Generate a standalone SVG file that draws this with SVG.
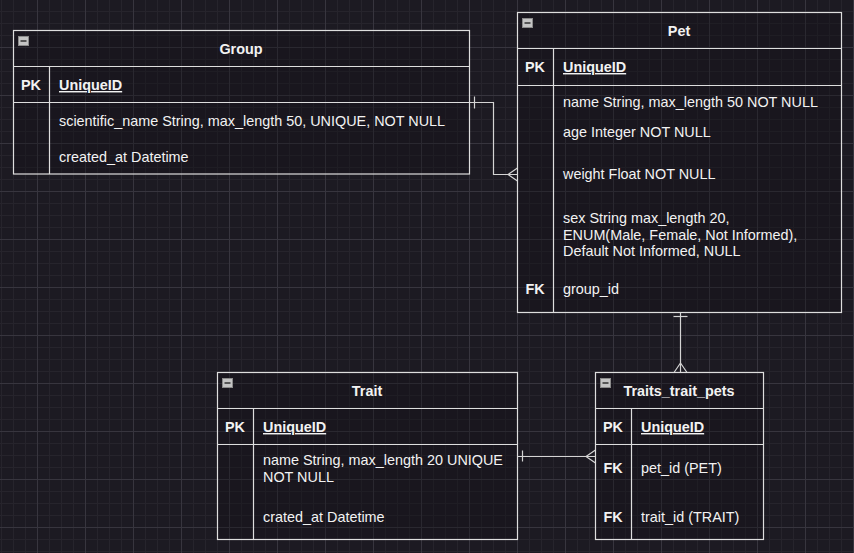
<svg xmlns="http://www.w3.org/2000/svg" width="854" height="553" viewBox="0 0 854 553">
<style>
.tb{fill:#141218;fill-opacity:0.35;stroke:#dedede;stroke-width:1.2}
.ln{fill:none;stroke:#dedede;stroke-width:1.2}
.cn{fill:none;stroke:#d4d4d4;stroke-width:1.2}
.t{font-family:"Liberation Sans",Arial,sans-serif;font-size:14.4px;fill:#f2f2f2}
.b{font-weight:bold}
.c{text-anchor:middle}
.u{text-decoration:underline}
.ic{fill:#c4c4c4;stroke:#8a8a8a;stroke-width:1}
.icl{stroke:#3a3a3a;stroke-width:1.6}
</style>
<defs>
<pattern id="grid" patternUnits="userSpaceOnUse" x="37" y="47" width="48" height="48">
<rect x="0" y="0" width="48" height="48" fill="#1c1a22"/>
<rect x="12" y="0" width="1" height="48" fill="#26242c"/>
<rect x="24" y="0" width="1" height="48" fill="#26242c"/>
<rect x="36" y="0" width="1" height="48" fill="#26242c"/>
<rect x="0" y="12" width="48" height="1" fill="#26242c"/>
<rect x="0" y="24" width="48" height="1" fill="#26242c"/>
<rect x="0" y="36" width="48" height="1" fill="#26242c"/>
<rect x="0" y="0" width="1" height="48" fill="#37353e"/>
<rect x="0" y="0" width="48" height="1" fill="#37353e"/>
</pattern>
</defs>
<rect x="0" y="0" width="854" height="553" fill="url(#grid)"/>

<g id="connectors">
<path class="cn" d="M469.5 102.5 H493.5 V174.5 H517.5"/>
<path class="cn" d="M474.5 96.5 V108.5"/>
<path class="cn" d="M508 174.5 L517.5 168 M508 174.5 L517.5 181"/>
<path class="cn" d="M680.5 312.5 V372.5"/>
<path class="cn" d="M673.5 316.5 H687.5"/>
<path class="cn" d="M680.5 363 L674 372.5 M680.5 363 L687 372.5"/>
<path class="cn" d="M517.5 456.5 H595.5"/>
<path class="cn" d="M522.5 450.5 V461.5"/>
<path class="cn" d="M586 456.5 L595.5 450 M586 456.5 L595.5 463"/>
</g>

<g id="group">
<rect class="tb" x="13.5" y="30.5" width="456" height="143.5"/>
<path class="ln" d="M13.5 66.5 H469.5 M13.5 102.5 H469.5 M49.5 66.5 V174"/>
<rect class="ic" x="18.5" y="36.5" width="10" height="9"/>
<path class="icl" d="M20.5 41 H26.5"/>
<text class="t b c" x="241" y="54">Group</text>
<text class="t b c" x="31" y="90">PK</text>
<text class="t b u" x="59" y="90">UniqueID</text>
<text class="t" x="59" y="126">scientific_name String, max_length 50, UNIQUE, NOT NULL</text>
<text class="t" x="59" y="162">created_at Datetime</text>
</g>

<g id="pet">
<rect class="tb" x="517.5" y="12.5" width="324" height="300"/>
<path class="ln" d="M517.5 48.5 H841.5 M517.5 85.5 H841.5 M553.5 48.5 V312.5"/>
<rect class="ic" x="522.5" y="18.5" width="10" height="9"/>
<path class="icl" d="M524.5 23 H530.5"/>
<text class="t b c" x="679" y="36">Pet</text>
<text class="t b c" x="535" y="72">PK</text>
<text class="t b u" x="563" y="72">UniqueID</text>
<text class="t" x="563" y="107">name String, max_length 50 NOT NULL</text>
<text class="t" x="563" y="137">age Integer NOT NULL</text>
<text class="t" x="563" y="179">weight Float NOT NULL</text>
<text class="t" x="563" y="223">sex String max_length 20,</text>
<text class="t" x="563" y="240">ENUM(Male, Female, Not Informed),</text>
<text class="t" x="563" y="256">Default Not Informed, NULL</text>
<text class="t b c" x="535" y="294">FK</text>
<text class="t" x="563" y="294">group_id</text>
</g>

<g id="trait">
<rect class="tb" x="217.5" y="372.5" width="300" height="167"/>
<path class="ln" d="M217.5 408.5 H517.5 M217.5 444.5 H517.5 M253.5 408.5 V539.5"/>
<rect class="ic" x="222.5" y="378.5" width="10" height="9"/>
<path class="icl" d="M224.5 383 H230.5"/>
<text class="t b c" x="367" y="396">Trait</text>
<text class="t b c" x="235" y="432">PK</text>
<text class="t b u" x="263" y="432">UniqueID</text>
<text class="t" x="263" y="465">name String, max_length 20 UNIQUE</text>
<text class="t" x="263" y="482">NOT NULL</text>
<text class="t" x="263" y="522">crated_at Datetime</text>
</g>

<g id="traits_trait_pets">
<rect class="tb" x="595.5" y="372.5" width="168" height="167"/>
<path class="ln" d="M595.5 408.5 H763.5 M595.5 444.5 H763.5 M631.5 408.5 V539.5"/>
<rect class="ic" x="600.5" y="378.5" width="10" height="9"/>
<path class="icl" d="M602.5 383 H608.5"/>
<text class="t b c" x="679" y="396">Traits_trait_pets</text>
<text class="t b c" x="613" y="432">PK</text>
<text class="t b u" x="641" y="432">UniqueID</text>
<text class="t b c" x="613" y="473">FK</text>
<text class="t" x="641" y="473">pet_id (PET)</text>
<text class="t b c" x="613" y="522">FK</text>
<text class="t" x="641" y="522">trait_id (TRAIT)</text>
</g>
</svg>
